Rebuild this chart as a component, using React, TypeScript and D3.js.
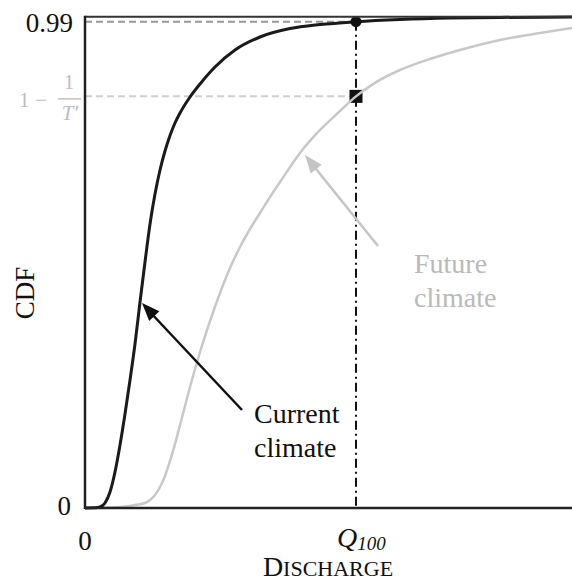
import React from "react";
import * as d3 from "d3";

// Discharge values (arbitrary units, Q100 = 100) and CDF values
const currentX = [0, 3.69, 5.54, 7.38, 9.23, 11.07, 12.92, 14.76, 16.61, 18.45, 20.3, 22.14, 23.99, 25.83, 27.68, 29.52, 31.37, 33.21, 35.06, 38.75, 42.44, 47.97, 55.35, 64.58, 75.65, 86.72, 100, 116.24, 134.69, 153.14, 179.7];
const currentY = [0, 0.0004, 0.002, 0.0102, 0.0326, 0.0733, 0.1283, 0.1914, 0.2606, 0.3339, 0.4194, 0.5008, 0.5782, 0.6392, 0.6881, 0.7268, 0.7584, 0.7838, 0.8041, 0.8367, 0.8632, 0.8978, 0.9324, 0.9589, 0.976, 0.9842, 0.99, 0.9945, 0.9975, 0.9987, 0.9995];

const futureX = [0, 9.23, 14.76, 18.45, 22.14, 23.99, 25.83, 27.68, 29.52, 31.37, 33.21, 35.06, 36.9, 38.75, 40.59, 42.44, 46.13, 49.82, 53.51, 57.2, 60.89, 64.58, 68.27, 71.96, 79.34, 86.72, 94.1, 100, 107.01, 116.24, 127.31, 138.38, 153.14, 167.9, 179.7];
const futureY = [0, 0.0008, 0.003, 0.0061, 0.0102, 0.0163, 0.0265, 0.0428, 0.0652, 0.0957, 0.1303, 0.169, 0.2077, 0.2464, 0.283, 0.3176, 0.3807, 0.4377, 0.4886, 0.5314, 0.568, 0.6006, 0.6332, 0.6637, 0.7228, 0.7696, 0.8082, 0.838, 0.8656, 0.8917, 0.9141, 0.9324, 0.9528, 0.967, 0.9772];

const Q100 = 100;
const P99 = 0.99;
const P_TPRIME = 0.838;
const xDomain = [0, 180];
const yDomain = [0, 1];

const W = 572;
const H = 581;
const SERIF = "'Liberation Serif', 'Times New Roman', serif";

export default function App() {
  const x = d3.scaleLinear().domain(xDomain).range([85, 572.8]);
  const y = d3.scaleLinear().domain(yDomain).range([508, 16.8]);

  const line = d3
    .line<[number, number]>()
    .x((d) => x(d[0]))
    .y((d) => y(d[1]))
    .curve(d3.curveMonotoneX);

  const cur: [number, number][] = currentX.map((v, i) => [v, currentY[i]]);
  const fut: [number, number][] = futureX.map((v, i) => [v, futureY[i]]);

  const arrowHead = (tx: number, ty: number, fx: number, fy: number, len: number, wid: number) => {
    const ang = Math.atan2(fy - ty, fx - tx);
    const bx = tx + len * Math.cos(ang);
    const by = ty + len * Math.sin(ang);
    const px = (-Math.sin(ang) * wid) / 2;
    const py = (Math.cos(ang) * wid) / 2;
    return `M${tx},${ty}L${bx + px},${by + py}L${bx - px},${by - py}Z`;
  };

  const qx = x(Q100);
  const y99 = y(P99);
  const yT = y(P_TPRIME);

  const blackTip = [142, 303];
  const blackTail = [242, 410];
  const greyTip = [305, 155];
  const greyTail = [378, 246];

  const ts = { fontFamily: SERIF };

  return (
    <svg width={W} height={H} style={{ position: "absolute", left: 0, top: 0, background: "#fff" }} fontFamily={SERIF}>
      {/* dashed reference lines */}
      <line x1={x(0)} x2={qx} y1={y99} y2={y99} stroke="#999" strokeWidth={2} strokeDasharray="7,4" />
      <line x1={x(0)} x2={qx} y1={yT} y2={yT} stroke="#cfcfcf" strokeWidth={2} strokeDasharray="7,4" />
      {/* vertical Q100 line */}
      <line x1={qx} x2={qx} y1={y99} y2={y(0)} stroke="#111" strokeWidth={2} strokeDasharray="9,4,2,4" />
      {/* square marker */}
      <rect x={qx - 6.5} y={yT - 6.5} width={13} height={13} fill="#111" />
      {/* curves */}
      <path d={line(fut) || ""} fill="none" stroke="#c8c8c8" strokeWidth={2.5} />
      <path d={line(cur) || ""} fill="none" stroke="#1a1a1a" strokeWidth={3} />
      {/* dot marker */}
      <circle cx={qx} cy={y99} r={5.5} fill="#111" />
      {/* frame */}
      <line x1={x(0)} x2={W} y1={y(1)} y2={y(1)} stroke="#333" strokeWidth={2} />
      <line x1={x(0)} x2={x(0)} y1={y(1) - 1} y2={y(0) + 1} stroke="#222" strokeWidth={2.5} />
      <line x1={x(0)} x2={W} y1={y(0)} y2={y(0)} stroke="#222" strokeWidth={2.5} />

      {/* arrows */}
      <line x1={blackTail[0]} y1={blackTail[1]} x2={blackTip[0] + 8} y2={blackTip[1] + 9} stroke="#111" strokeWidth={2.5} />
      <path d={arrowHead(blackTip[0], blackTip[1], blackTail[0], blackTail[1], 18, 14)} fill="#111" />
      <line x1={greyTail[0]} y1={greyTail[1]} x2={greyTip[0] + 7} y2={greyTip[1] + 9} stroke="#c4c4c4" strokeWidth={2.5} />
      <path d={arrowHead(greyTip[0], greyTip[1], greyTail[0], greyTail[1], 18, 14)} fill="#c4c4c4" />

      {/* annotations */}
      <text style={ts} x={254} y={423} fontSize={28} fill="#111">Current</text>
      <text style={ts} x={254} y={457} fontSize={28} fill="#111">climate</text>
      <text style={ts} x={414} y={273} fontSize={28} fill="#b9b9b9">Future</text>
      <text style={ts} x={414} y={307} fontSize={28} fill="#b9b9b9">climate</text>

      {/* y tick labels */}
      <text style={ts} x={73} y={y99 + 10} fontSize={27} textAnchor="end" fill="#111">0.99</text>
      <text style={ts} x={71} y={y(0) + 7} fontSize={27} textAnchor="end" fill="#111">0</text>
      <g fill="#bdbdbd">
        <text style={ts} x={19} y={yT + 11} fontSize={21}>1</text>
        <text style={ts} x={35} y={yT + 11} fontSize={21}>−</text>
        <text style={ts} x={69} y={yT - 7} fontSize={20} textAnchor="middle">1</text>
        <line x1={58} x2={81} y1={yT + 2.5} y2={yT + 2.5} stroke="#bdbdbd" strokeWidth={1.4} />
        <text style={ts} x={70} y={yT + 24} fontSize={21} textAnchor="middle" fontStyle="italic">T′</text>
      </g>

      {/* x tick labels */}
      <text style={ts} x={x(0)} y={550} fontSize={27} textAnchor="middle" fill="#111">0</text>
      <text style={ts} x={337} y={547} fontSize={28} fill="#111" fontStyle="italic">
        Q<tspan fontSize={19} dy={3}>100</tspan>
      </text>

      {/* axis titles */}
      <text style={ts} x={328} y={576} fontSize={28} textAnchor="middle" fill="#111">
        D<tspan fontSize={22}>ISCHARGE</tspan>
      </text>
      <text style={ts} transform={`translate(34,${293}) rotate(-90)`} fontSize={27} textAnchor="middle" fill="#111">CDF</text>
    </svg>
  );
}
